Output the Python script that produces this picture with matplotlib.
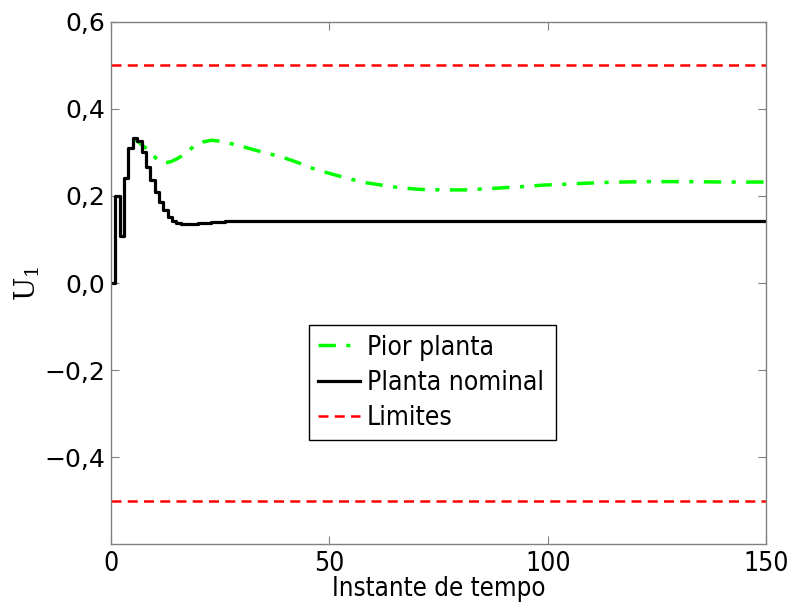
import numpy as np
import matplotlib.pyplot as plt

# nominal plant control signal (stairs, one value per time step)
t_nom = [0, 1, 2, 3, 4, 5, 6, 7, 8, 9, 10, 11, 12, 13, 14, 15, 16, 17, 18, 19,
         20, 21, 22, 23, 24, 25, 26, 27, 28, 150]
u_nom = [0.0, 0.2, 0.107, 0.241, 0.311, 0.333, 0.326, 0.302, 0.267, 0.236,
         0.209, 0.186, 0.167, 0.152, 0.143, 0.138, 0.136, 0.135, 0.135, 0.136,
         0.137, 0.138, 0.139, 0.140, 0.141, 0.141, 0.142, 0.142, 0.143, 0.143]

# worst-case plant
t_pior = [5, 6, 8, 10, 11, 12, 13, 14, 15, 17, 19, 21, 23, 25, 28, 31, 35, 39,
          43, 46, 50, 54, 58, 62, 66, 71, 76, 81, 85, 90, 95, 99, 104, 108,
          113, 117, 123, 132, 141, 150]
u_pior = [0.333, 0.326, 0.31, 0.29, 0.28, 0.276, 0.277, 0.28, 0.285, 0.296,
          0.315, 0.324, 0.328, 0.326, 0.319, 0.311, 0.30, 0.29, 0.276, 0.264,
          0.252, 0.241, 0.231, 0.225, 0.219, 0.215, 0.214, 0.214, 0.216, 0.219,
          0.222, 0.225, 0.227, 0.229, 0.231, 0.232, 0.233, 0.233, 0.232, 0.232]

limites = [0.5, -0.5]

yticks = [-0.4, -0.2, 0.0, 0.2, 0.4, 0.6]
ylabels = ['\u22120,4', '\u22120,2', '0,0', '0,2', '0,4', '0,6']
xticks = [0, 50, 100, 150]

cond = dict(family='DejaVu Sans', stretch='condensed')

fig = plt.figure(figsize=(7.95, 6.08), dpi=100)
ax = fig.add_axes([0.1396, 0.105, 0.824, 0.859])

ax.plot(t_pior, u_pior, color='#00ff00', lw=2.5, ls=(0, (5, 3, 1.2, 3)),
        label='Pior planta')
ax.plot(t_nom, u_nom, color='black', lw=2.3, drawstyle='steps-post',
        label='Planta nominal')
for i, v in enumerate(limites):
    ax.plot([0, 150], [v, v], color='red', lw=1.8, ls=(0, (4, 2.5)),
            label='Limites' if i == 0 else None)

ax.set_xlim(0, 150)
ax.set_ylim(-0.6, 0.6)
ax.set_yticks(yticks)
ax.set_yticklabels(ylabels, fontsize=18)
ax.set_xticks(xticks)
ax.set_xticklabels([str(x) for x in xticks], fontsize=19, **cond)
ax.tick_params(direction='in', length=6, color='#808080', top=True, right=True)
ax.tick_params(axis='y', pad=4)
ax.tick_params(axis='x', pad=5)
for s in ax.spines.values():
    s.set_color('#808080')
    s.set_linewidth(1)

ax.set_xlabel('Instante de tempo', fontsize=18.5, labelpad=-1, **cond)
ax.set_ylabel(r'$\mathregular{U_1}$', fontsize=20, family='DejaVu Serif', labelpad=2)

leg = ax.legend(loc='lower left', bbox_to_anchor=(0.302, 0.199, 0.378, 0.22),
                mode='expand', prop={'family': 'DejaVu Sans', 'stretch': 'condensed', 'size': 19},
                fancybox=False, framealpha=1, edgecolor='black',
                handlelength=1.6, handletextpad=0.25, labelspacing=0.35,
                borderpad=0.35, borderaxespad=0)
leg.get_frame().set_linewidth(1)

plt.savefig('out.png', dpi=100)
plt.close()
